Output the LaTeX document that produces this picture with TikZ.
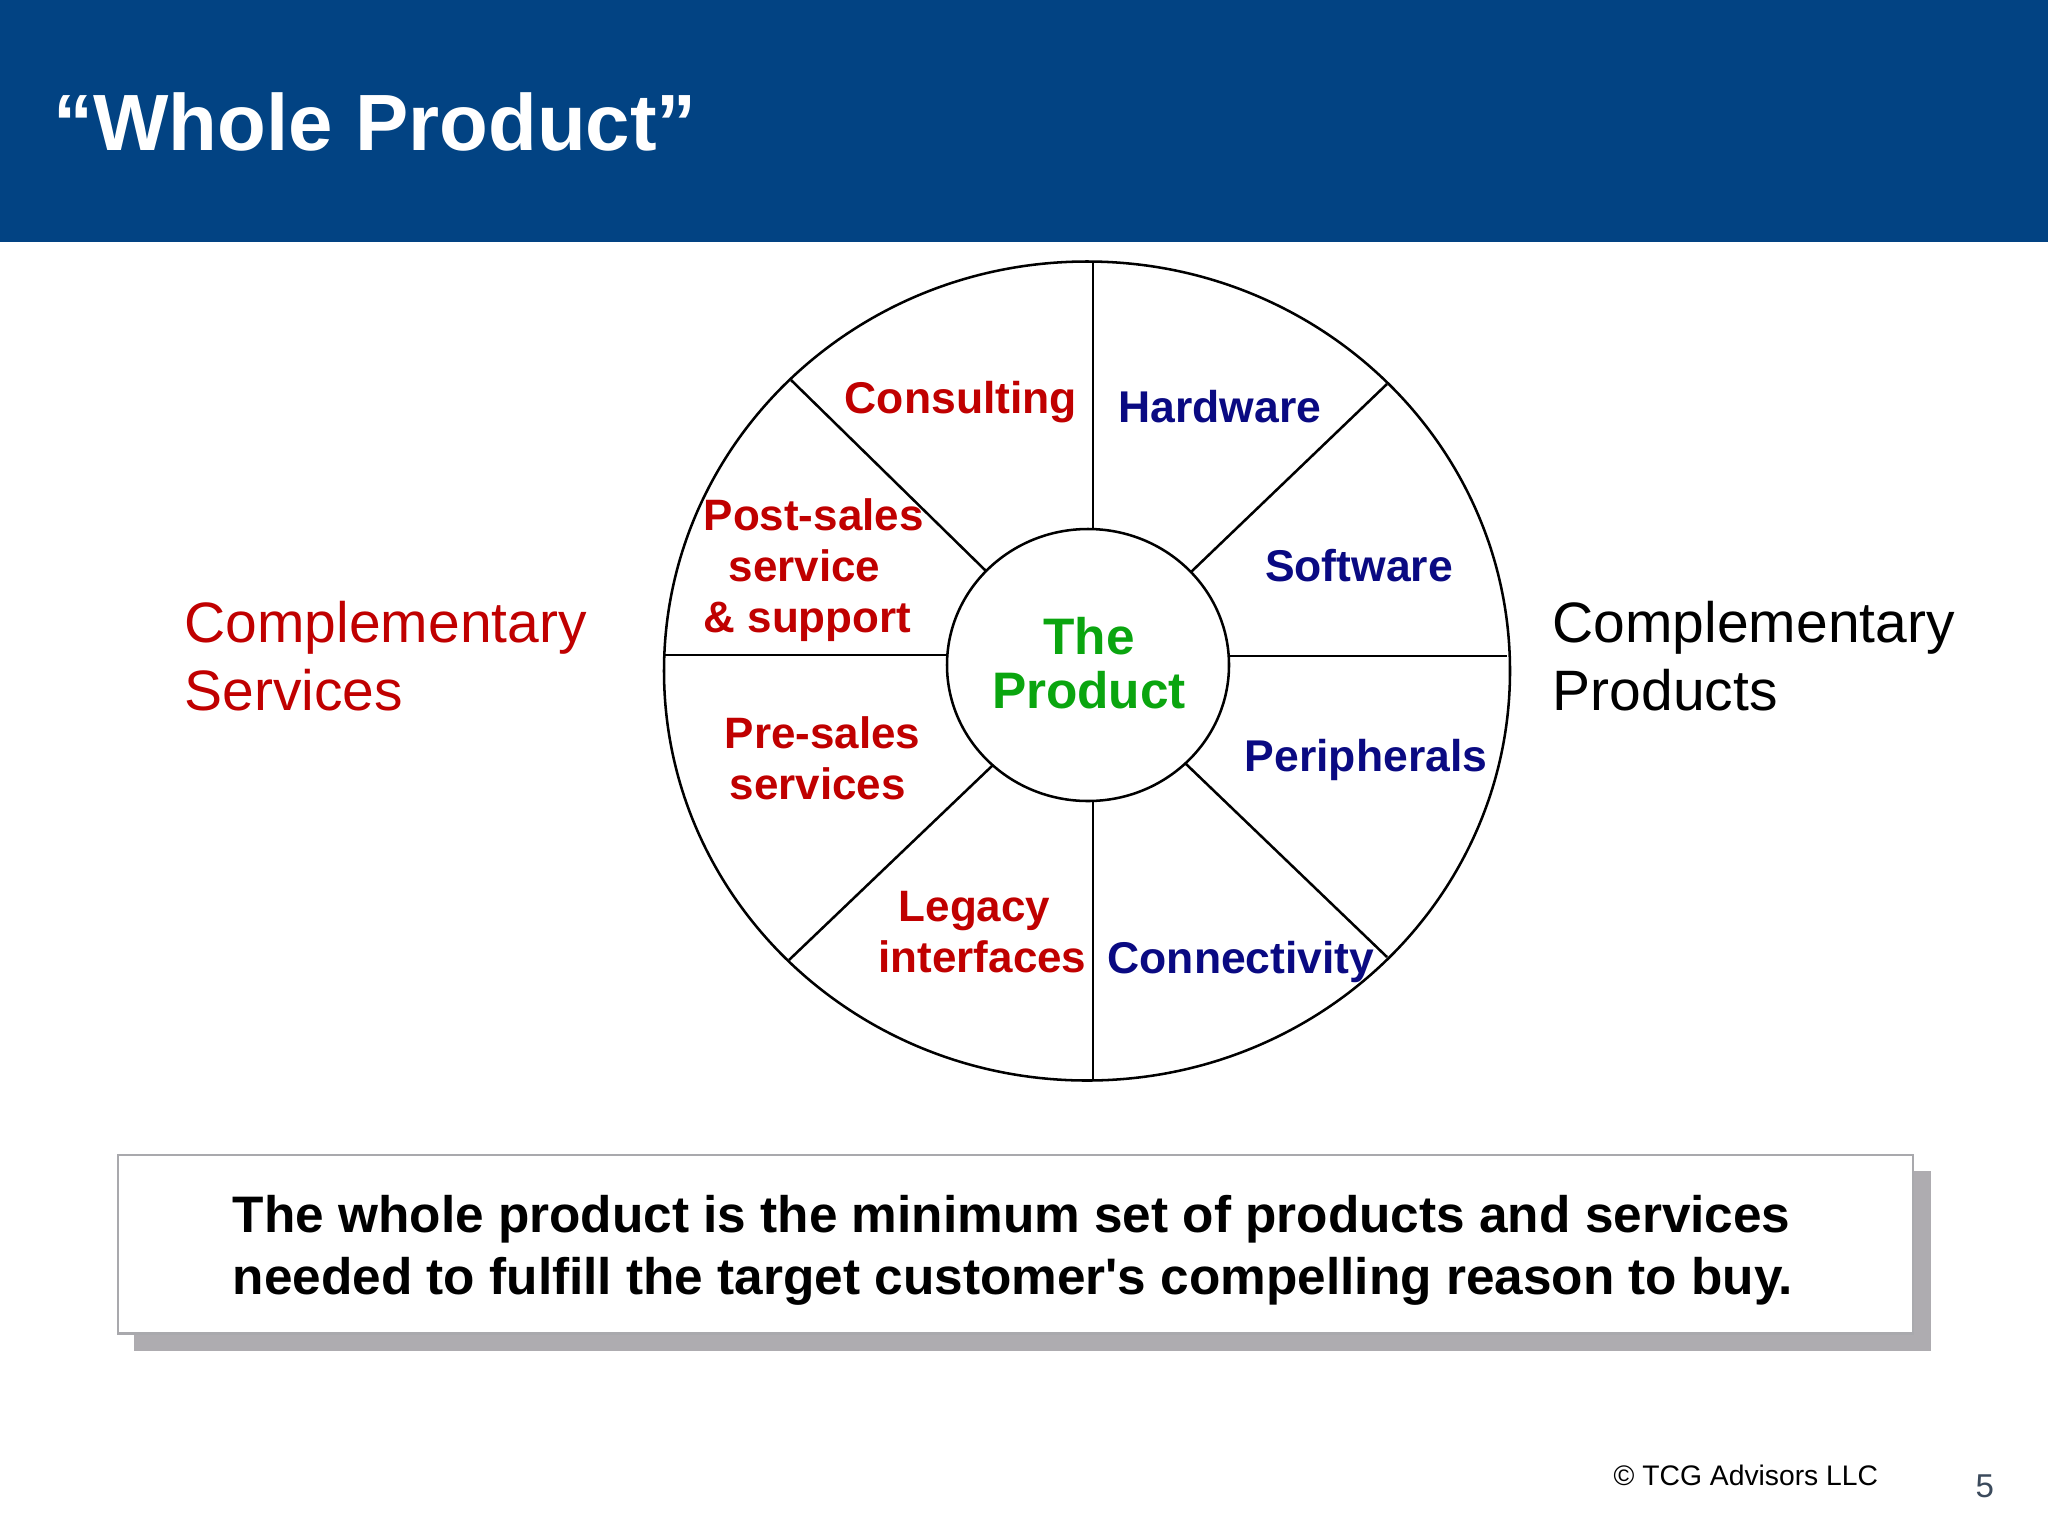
\documentclass[tikz,border=0pt]{standalone}
\usepackage{fontspec}
\setmainfont{Liberation Sans}
\definecolor{headblue}{HTML}{024383}
\definecolor{svcred}{HTML}{C00000}
\definecolor{prodnavy}{HTML}{0A0A82}
\definecolor{coregreen}{HTML}{0AA50F}
\definecolor{shadowgray}{HTML}{AEACB0}
\definecolor{edgegray}{HTML}{A9A9AD}
\definecolor{pagenum}{HTML}{3B4A5C}
\newcommand{\fs}[2]{\fontsize{#1}{#2}\selectfont}
\tikzset{
  wheel/.style={draw=black,line width=0.72pt},
  svc/.style={text=svcred,font=\bfseries\fs{12.5}{14.5},align=left,inner sep=0pt},
  prod/.style={text=prodnavy,font=\bfseries\fs{12.65}{14.5},align=center,inner sep=0pt},
  sidelabel/.style={font=\fs{16.2}{19.3},align=left,inner sep=0pt},
}
\begin{document}
\begin{tikzpicture}[x=0.01cm,y=-0.01cm]
\useasboundingbox (0,0) rectangle (2048,1536);
\fill[white] (0,0) rectangle (2048,1536);
\fill[headblue] (0,0) rectangle (2048,242);
\node[anchor=base west,inner sep=0pt,text=white,font=\bfseries\fs{22.7}{26}] (title) at (53,150) {“Whole Product”};

% wheel
\coordinate (c1) at (1087,671);
\coordinate (c2) at (1088,665);
\draw[wheel] (c1) ellipse [x radius=423,y radius=409.5];
\coordinate (tO) at (1093,262);   \coordinate (tI) at (1093,529);
\coordinate (rI) at (1229,656);   \coordinate (rO) at (1507,656);
\coordinate (lO) at (664,655);    \coordinate (lI) at (947,655);
\coordinate (bI) at (1093,801);   \coordinate (bO) at (1093,1080);
\coordinate (d1O) at (791,380);   \coordinate (d1I) at (986,571);
\coordinate (d2O) at (1387,384);  \coordinate (d2I) at (1191,572);
\coordinate (d3O) at (789,960);   \coordinate (d3I) at (993,765);
\coordinate (d4O) at (1387,957);  \coordinate (d4I) at (1186,764);
\foreach \a/\b in {tO/tI,rI/rO,lO/lI,bI/bO,d1O/d1I,d2O/d2I,d3O/d3I,d4O/d4I}
  \draw[wheel] (\a) -- (\b);
\draw[wheel,fill=white] (c2) ellipse [x radius=141,y radius=136];

\node[inner sep=0pt,text=coregreen,align=center,font=\bfseries\fs{14.6}{15.4}] (core) at (1089,663) {The\\Product};

\node[svc,anchor=base,font=\bfseries\fs{12.65}{14.5}] (consult) at (961,413) {Consulting};
\node[svc,anchor=west] (post) at (703,570.5) {Post-sales\\\hspace*{0.25cm}service\\\& support};
\node[svc,anchor=west] (pre) at (724,758) {Pre-sales\\\hspace*{0.05cm}services};
\node[svc,anchor=west] (legacy) at (878,932) {\hspace*{0.2cm}Legacy\\interfaces};
\node[prod,anchor=base] (hw) at (1220,422) {Hardware};
\node[prod,anchor=base] (sw) at (1359,581) {Software};
\node[prod,anchor=base] (per) at (1366,771) {Peripherals};
\node[prod,anchor=base] (conn) at (1241,973) {Connectivity};

\node[sidelabel,text=svcred,anchor=west] (csvc) at (184,656) {Complementary\\Services};
\node[sidelabel,text=black,anchor=west] (cprod) at (1552,656) {Complementary\\Products};

% statement box
\fill[shadowgray] (134,1171) rectangle (1931,1351);
\node[draw=edgegray,line width=0.7pt,fill=white,inner sep=0pt,anchor=north west,minimum width=17.94cm,minimum height=1.785cm] (box) at (116.5,1153.5) {};
\node[inner sep=0pt,align=left,font=\bfseries\fs{14.6}{17.6},text=black] (stmt) at (1013,1250) {The whole product is the minimum set of products and services\\needed to fulfill the target customer\textquotesingle s compelling reason to buy.};

\node[anchor=base west,inner sep=0pt,font=\fs{8.04}{10}] (copy) at (1613,1485) {© TCG Advisors LLC};
\node[anchor=base west,inner sep=0pt,text=pagenum,font=\fs{9.4}{11}] (pnum) at (1975,1497) {5};
\end{tikzpicture}
\end{document}
